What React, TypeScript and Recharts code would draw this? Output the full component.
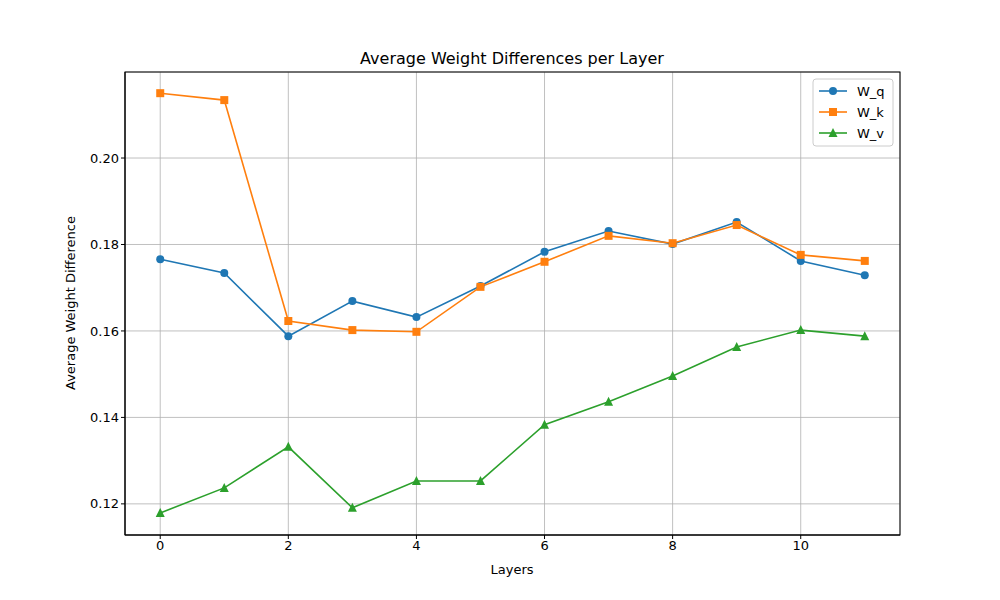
import { LineChart, Line, XAxis, YAxis, CartesianGrid } from "recharts"

const layers = [0, 1, 2, 3, 4, 5, 6, 7, 8, 9, 10, 11]
const wq = [0.1766, 0.1734, 0.1588, 0.1669, 0.1632, 0.1704, 0.1783, 0.1831, 0.1801, 0.1852, 0.1762, 0.1729]
const wk = [0.215, 0.2134, 0.1623, 0.1602, 0.1598, 0.1702, 0.176, 0.182, 0.1803, 0.1845, 0.1776, 0.1762]
const wv = [0.1179, 0.1237, 0.1332, 0.1191, 0.1253, 0.1253, 0.1383, 0.1436, 0.1496, 0.1563, 0.1602, 0.1588]
const xTicks = [0, 2, 4, 6, 8, 10]
const yTicks = [0.12, 0.14, 0.16, 0.18, 0.2]

const data = layers.map((l, i) => ({ layer: l, wq: wq[i], wk: wk[i], wv: wv[i] }))

const font = "DejaVu Sans, sans-serif"

const Circle = (p: any) => <circle cx={p.cx} cy={p.cy} r={4} fill={p.fill} />
const Square = (p: any) => <rect x={p.cx - 4} y={p.cy - 4} width={8} height={8} fill={p.fill} />
const Tri = (p: any) => (
  <polygon points={`${p.cx},${p.cy - 5} ${p.cx - 4.5},${p.cy + 4} ${p.cx + 4.5},${p.cy + 4}`} fill={p.fill} />
)

const series = [
  { key: "wq", name: "W_q", color: "#1f77b4", dot: Circle },
  { key: "wk", name: "W_k", color: "#ff7f0e", dot: Square },
  { key: "wv", name: "W_v", color: "#2ca02c", dot: Tri },
]

export default function App() {
  return (
    <div style={{ position: "fixed", left: 0, top: 0, width: 1000, height: 600, background: "#fff", fontFamily: font }}>
      <LineChart width={1000} height={600} data={data} margin={{ top: 72, right: 100, bottom: 35, left: 65 }}>
        <CartesianGrid stroke="#b0b0b0" strokeWidth={0.8} />
        <XAxis
          dataKey="layer"
          type="number"
          domain={[-0.55, 11.55]}
          ticks={xTicks}
          height={30}
          tick={{ fontSize: 13, fill: "#000", fontFamily: font }}
          stroke="#000"
          tickSize={4}
        />
        <YAxis
          type="number"
          domain={[0.1128, 0.2199]}
          ticks={yTicks}
          width={60}
          tickFormatter={(v: number) => v.toFixed(2)}
          tick={{ fontSize: 13, fill: "#000", fontFamily: font }}
          stroke="#000"
          tickSize={4}
        />
        {series.map((s) => (
          <Line
            key={s.key}
            dataKey={s.key}
            name={s.name}
            stroke={s.color}
            strokeWidth={1.6}
            dot={(p: any) => <s.dot key={p.index} cx={p.cx} cy={p.cy} fill={s.color} />}
            activeDot={false}
            isAnimationActive={false}
          />
        ))}
        <rect x={125} y={72} width={775} height={463} fill="none" stroke="#000" strokeWidth={1} />
        <text x={512} y={64} textAnchor="middle" fontSize={16} fontFamily={font}>Average Weight Differences per Layer</text>
        <text x={512} y={574} textAnchor="middle" fontSize={13} fontFamily={font}>Layers</text>
        <text x={75} y={303} textAnchor="middle" fontSize={13} fontFamily={font} transform="rotate(-90 75 303)">Average Weight Difference</text>
        <g>
          <rect x={813} y={79} width={80} height={67} rx={3} fill="#fff" fillOpacity={0.8} stroke="#ccc" />
          {series.map((s, i) => {
            const y = 91 + i * 21
            const D = s.dot
            return (
              <g key={s.key}>
                <line x1={819} x2={847} y1={y} y2={y} stroke={s.color} strokeWidth={1.6} />
                <D cx={833} cy={y} fill={s.color} />
                <text x={857} y={y + 5} fontSize={13} fontFamily={font}>{s.name}</text>
              </g>
            )
          })}
        </g>
      </LineChart>
    </div>
  )
}
